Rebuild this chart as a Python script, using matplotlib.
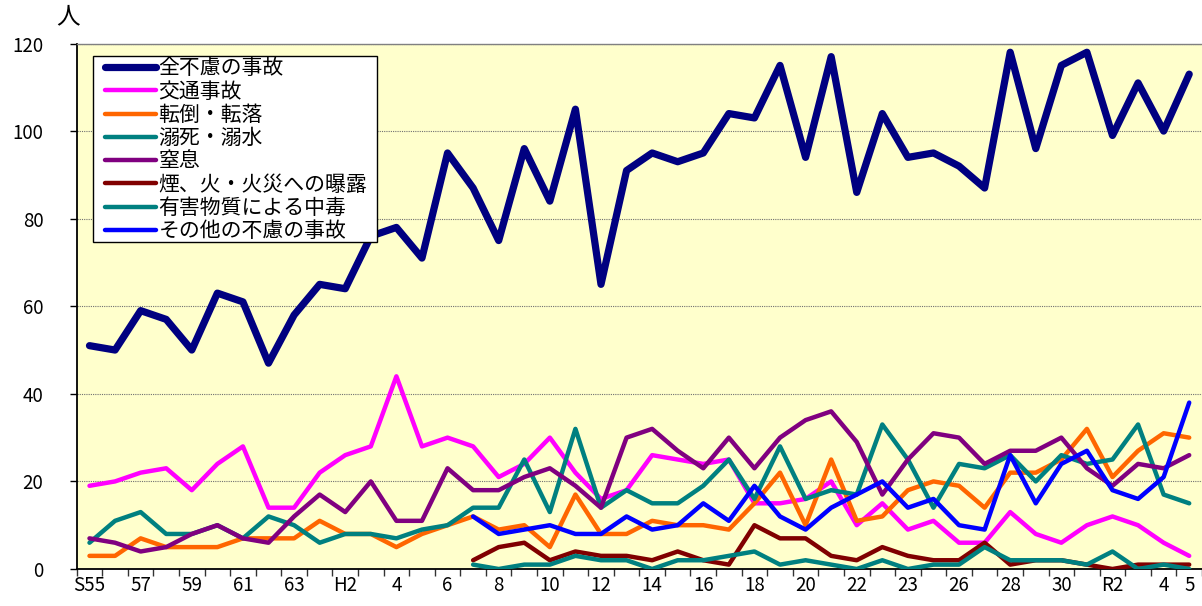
import numpy as np
import matplotlib
matplotlib.use("Agg")
import matplotlib.pyplot as plt
from matplotlib.patches import Rectangle

plt.rcParams['font.family'] = ['Noto Sans CJK JP', 'DejaVu Sans']

nan = np.nan

# Categories: S55 (1980) .. R5 (2023)
years = ([f"S{y}" for y in range(55, 64)] + [f"H{y}" for y in range(1, 31)]
         + [f"R{y}" for y in range(1, 6)])

# Displayed tick labels (category, text) as printed on the original chart
tick_labels = [("S55", "S55"), ("S57", "57"), ("S59", "59"), ("S61", "61"), ("S63", "63"),
               ("H2", "H2"), ("H4", "4"), ("H6", "6"), ("H8", "8"), ("H10", "10"),
               ("H12", "12"), ("H14", "14"), ("H16", "16"), ("H18", "18"), ("H20", "20"),
               ("H22", "22"), ("H24", "23"), ("H26", "26"), ("H28", "28"), ("H30", "30"),
               ("R2", "R2"), ("R4", "4"), ("R5", "5")]

total = [51, 50, 59, 57, 50, 63, 61, 47, 58, 65, 64, 76, 78, 71, 95, 87, 75, 96, 84, 105,
         65, 91, 95, 93, 95, 104, 103, 115, 94, 117, 86, 104, 94, 95, 92, 87, 118, 96, 115,
         118, 99, 111, 100, 113]
traffic = [19, 20, 22, 23, 18, 24, 28, 14, 14, 22, 26, 28, 44, 28, 30, 28, 21, 24, 30, 22,
           16, 18, 26, 25, 24, 25, 15, 15, 16, 20, 10, 15, 9, 11, 6, 6, 13, 8, 6, 10,
           12, 10, 6, 3]
falls = [3, 3, 7, 5, 5, 5, 7, 7, 7, 11, 8, 8, 5, 8, 10, 12, 9, 10, 5, 17,
         8, 8, 11, 10, 10, 9, 15, 22, 10, 25, 11, 12, 18, 20, 19, 14, 22, 22, 25, 32,
         21, 27, 31, 30]
drowning = [6, 11, 13, 8, 8, 10, 7, 12, 10, 6, 8, 8, 7, 9, 10, 14, 14, 25, 13, 32,
            14, 18, 15, 15, 19, 25, 16, 28, 16, 18, 17, 33, 25, 14, 24, 23, 26, 20, 26, 24,
            25, 33, 17, 15]
suffocation = [7, 6, 4, 5, 8, 10, 7, 6, 12, 17, 13, 20, 11, 11, 23, 18, 18, 21, 23, 19,
               14, 30, 32, 27, 23, 30, 23, 30, 34, 36, 29, 17, 25, 31, 30, 24, 27, 27, 30, 23,
               19, 24, 23, 26]
smoke_fire = [nan] * 15 + [2, 5, 6, 2, 4, 3, 3, 2, 4, 2, 1, 10, 7, 7, 3, 2, 5, 3, 2, 2,
                           6, 1, 2, 2, 1, 0, 1, 1, 1]
poisoning = [nan] * 15 + [1, 0, 1, 1, 3, 2, 2, 0, 2, 2, 3, 4, 1, 2, 1, 0, 2, 0, 1, 1,
                          5, 2, 2, 2, 1, 4, 0, 1, 0]
other = [nan] * 15 + [12, 8, 9, 10, 8, 8, 12, 9, 10, 15, 11, 19, 12, 9, 14, 17, 20, 14, 16, 10,
                      9, 26, 15, 24, 27, 18, 16, 21, 38]

series = [
    ("全不慮の事故", total, "#000080", 5.2),
    ("交通事故", traffic, "#FF00FF", 3.2),
    ("転倒・転落", falls, "#FF6600", 3.2),
    ("溺死・溺水", drowning, "#008080", 3.2),
    ("窒息", suffocation, "#800080", 3.2),
    ("煙、火・火災への曝露", smoke_fire, "#800000", 3.2),
    ("有害物質による中毒", poisoning, "#008080", 3.2),
    ("その他の不慮の事故", other, "#0000FF", 3.2),
]

W, H = 1202, 606
fig = plt.figure(figsize=(W / 100, H / 100), dpi=100)
left, right, top, bottom = 76.7, 1202, 43.5, 569
ax = fig.add_axes([left / W, 1 - bottom / H, (right - left) / W, (bottom - top) / H])
ax.set_facecolor("#FFFFCC")

x = np.arange(len(years))
for i, (name, vals, col, lw) in enumerate(series):
    ax.plot(x, np.array(vals, dtype=float), color=col, lw=lw, label=name,
            solid_joinstyle="round", solid_capstyle="round", zorder=3 + i)

ax.set_xlim(-0.5, len(years) - 0.5)
ax.set_ylim(0, 120)
ax.set_yticks(np.arange(0, 121, 20))
ax.yaxis.grid(True, linestyle=(0, (1, 1)), color="#707070", lw=0.8)
ax.set_axisbelow(True)

# x: major ticks at category boundaries, labels on minor ticks at centers
ax.set_xticks(np.arange(len(years) + 1) - 0.5)
ax.set_xticklabels([])
ax.set_xticks([years.index(c) for c, _ in tick_labels], minor=True)
ax.set_xticklabels([t for _, t in tick_labels], minor=True, fontsize=13.5)
ax.tick_params(axis="x", which="major", length=5, width=1, direction="out", color="#333333")
ax.tick_params(axis="x", which="minor", length=0, pad=4)
ax.tick_params(axis="y", length=5, width=1, direction="out", pad=19, labelsize=13.5)

for s in ["left", "bottom"]:
    ax.spines[s].set_color("black")
    ax.spines[s].set_linewidth(1.3)
ax.spines["right"].set_visible(False)
ax.spines["top"].set_color("#808080")
ax.spines["top"].set_linewidth(1.0)

fig.text(68 / W, 1 - 17 / H, "人", ha="center", va="center", fontsize=17)

# legend box drawn separately for exact placement
box = Rectangle((93 / W, 1 - 242 / H), (377 - 93) / W, (242 - 56) / H,
                transform=fig.transFigure, facecolor="white", edgecolor="black",
                lw=1.0, zorder=19, clip_on=False)
ax.add_patch(box)
leg = ax.legend(loc="upper left", bbox_to_anchor=(105 / W, 1 - 57.5 / H),
                bbox_transform=fig.transFigure, borderaxespad=0, fontsize=15,
                frameon=False, handlelength=2.45, handletextpad=0.12, labelspacing=0.06,
                borderpad=0)
leg.set_zorder(20)

fig.savefig("out.png", dpi=100)
